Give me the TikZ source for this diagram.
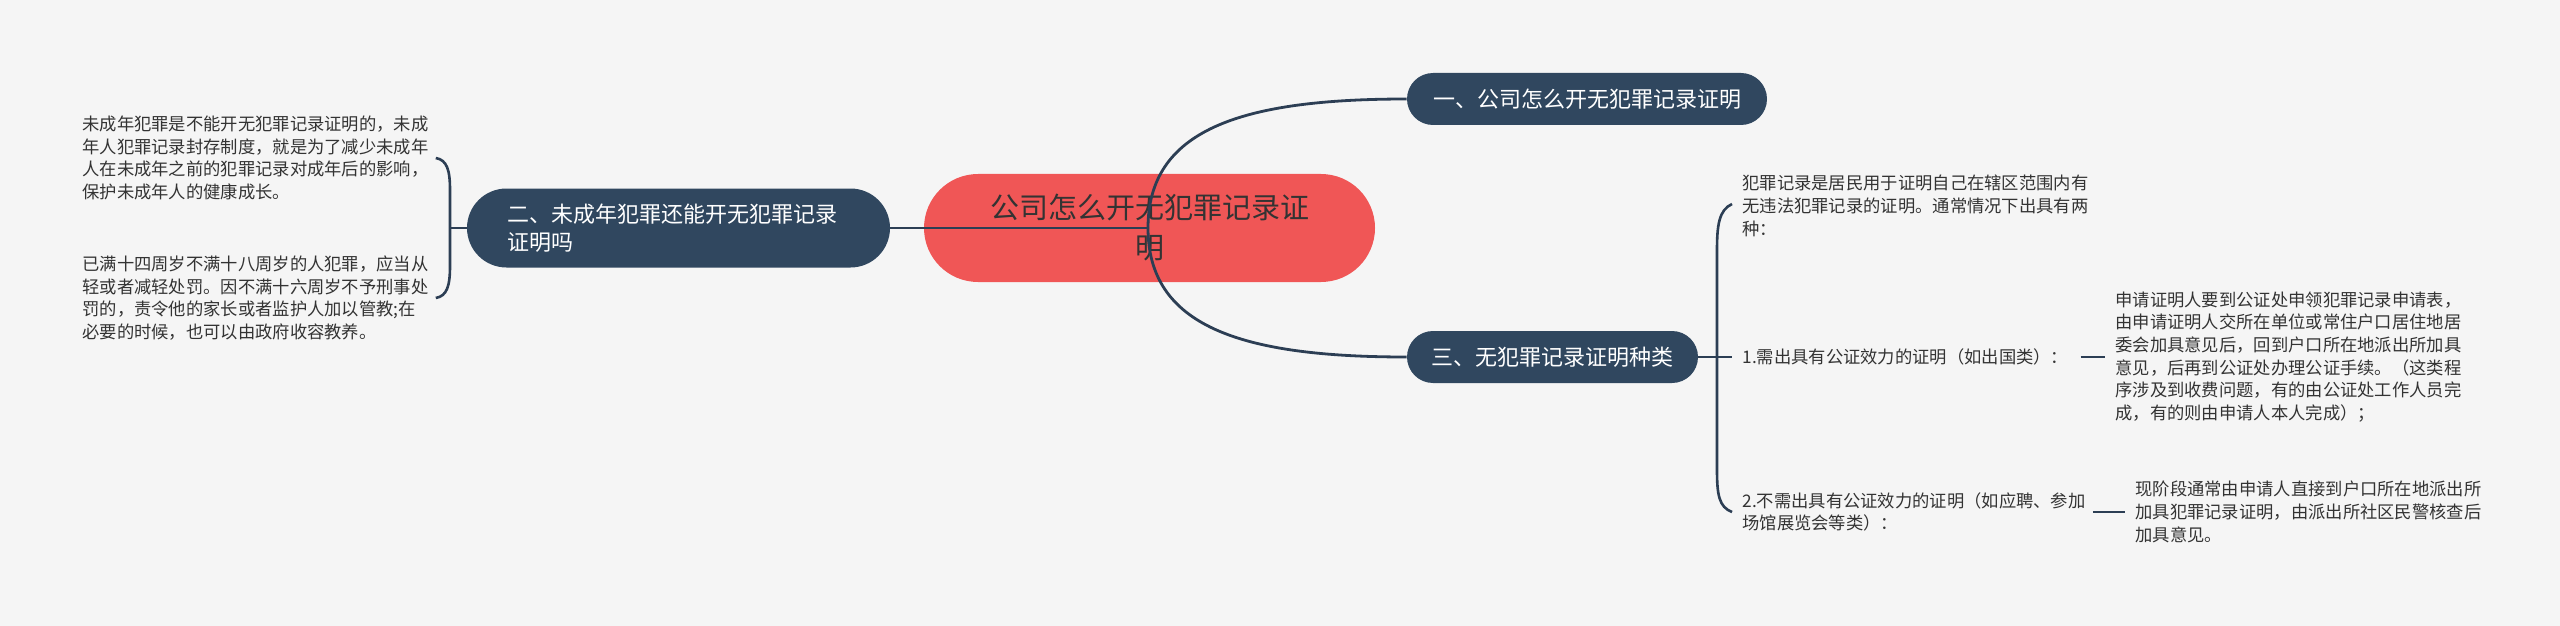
\documentclass[tikz,border=0pt]{standalone}
\usepackage{fontspec}
\setmainfont{Noto Sans CJK SC}
\usetikzlibrary{calc}
\definecolor{bgc}{HTML}{F5F5F5}
\definecolor{navy}{HTML}{30475F}
\definecolor{linec}{HTML}{2C3E54}
\definecolor{redc}{HTML}{F05656}
\definecolor{txtc}{HTML}{333333}
\begin{document}
\begin{tikzpicture}[x=0.5pt,y=-0.5pt,
  darknode/.style={fill=navy, text=white, rounded corners=13pt, minimum height=26pt, inner xsep=0pt, inner ysep=0pt, font=\fontsize{11}{14}\selectfont},
  body/.style={text=txtc, inner sep=0pt, anchor=west, align=left, font=\fontsize{8.65}{11.35}\selectfont},
  conn/.style={draw=linec, line width=1.4pt},
  brace/.style={draw=linec, line width=1.3pt},
]
\fill[bgc] (0,0) rectangle (2560,626);
\useasboundingbox (0,0) rectangle (2560,626);

% central node
\node[fill=redc, text=txtc, rounded corners=27pt, minimum width=225.5pt, minimum height=54pt,
      align=center, inner sep=0pt, font=\fontsize{14.5}{20}\selectfont] (root) at (1149.5,228)
  {公司怎么开无犯罪记录证\\明};

% main branches
\node[darknode, minimum width=180pt] (n1) at (1587,99) {一、公司怎么开无犯罪记录证明};
\node[darknode, minimum width=145.5pt] (n3) at (1552.5,357) {三、无犯罪记录证明种类};
\node[darknode, minimum width=211.5pt, minimum height=39.5pt, rounded corners=19.75pt,
      text width=171.5pt, align=left] (n2) at (678.5,228)
  {二、未成年犯罪还能开无犯罪记录\\证明吗};

% left texts
\node[body] (l1) at (82,158)
  {未成年犯罪是不能开无犯罪记录证明的，未成\\年人犯罪记录封存制度，就是为了减少未成年\\人在未成年之前的犯罪记录对成年后的影响，\\保护未成年人的健康成长。};
\node[body] (l2) at (82,298)
  {已满十四周岁不满十八周岁的人犯罪，应当从\\轻或者减轻处罚。因不满十六周岁不予刑事处\\罚的，责令他的家长或者监护人加以管教;在\\必要的时候，也可以由政府收容教养。};

% right texts
\node[body] (tA) at (1742,206)
  {犯罪记录是居民用于证明自己在辖区范围内有\\无违法犯罪记录的证明。通常情况下出具有两\\种：};
\node[body] (i1) at (1742,357) {1.需出具有公证效力的证明（如出国类）：};
\node[body] (i2) at (1742,512)
  {2.不需出具有公证效力的证明（如应聘、参加\\场馆展览会等类）：};
\node[body] (c1) at (2115,357)
  {申请证明人要到公证处申领犯罪记录申请表，\\由申请证明人交所在单位或常住户口居住地居\\委会加具意见后，回到户口所在地派出所加具\\意见，后再到公证处办理公证手续。（这类程\\序涉及到收费问题，有的由公证处工作人员完\\成，有的则由申请人本人完成）；};
\node[body] (c2) at (2135,512)
  {现阶段通常由申请人直接到户口所在地派出所\\加具犯罪记录证明，由派出所社区民警核查后\\加具意见。};

% connectors from root
\coordinate (o) at (1148,228);
\draw[conn] (n2.east) -- (o);
\draw[conn] (o) .. controls (1148,130) and (1240,99) .. (n1.west);
\draw[conn] (o) .. controls (1148,326) and (1240,357) .. (n3.west);

% left brace
\coordinate (jL) at (450,228);
\draw[conn] (n2.west) -- (jL);
\draw[brace] ($(l1.east)+(7,0)$) .. controls (447,160) and (450,170) .. (450,190)
  -- (450,266) .. controls (450,286) and (447,296) .. ($(l2.east)+(7,0)$);

% right brace
\coordinate (jR) at (1717,357);
\draw[conn] (n3.east) -- ($(i1.west)+(-10,0)$);
\draw[brace] ($(tA.west)+(-10,-2)$) .. controls (1719,210) and (1717,225) .. (1717,250)
  -- (1717,470) .. controls (1717,495) and (1719,507) .. ($(i2.west)+(-10,0)$);

% leaf connectors
\draw[conn] ($(i1.east)+(12,0)$) -- ($(c1.west)+(-10,0)$);
\draw[conn] ($(i2.east)+(7,0)$) -- ($(c2.west)+(-10,0)$);
\end{tikzpicture}
\end{document}
